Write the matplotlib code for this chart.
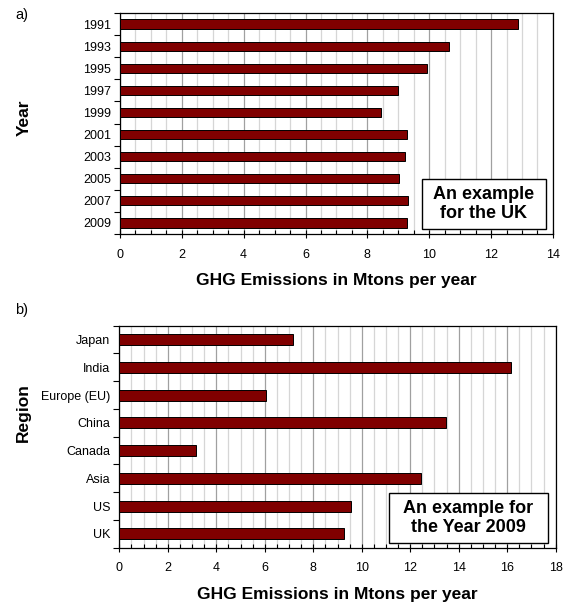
import numpy as np
import matplotlib
matplotlib.use("Agg")
import matplotlib.pyplot as plt
from matplotlib.patches import Rectangle
from matplotlib.ticker import MultipleLocator, FixedLocator

plt.rcParams['font.family'] = ['Liberation Sans', 'DejaVu Sans']

# panel a: UK emissions by year
years = ['1991', '1993', '1995', '1997', '1999', '2001', '2003', '2005', '2007', '2009']
uk_values = [12.86, 10.65, 9.94, 8.99, 8.44, 9.27, 9.23, 9.02, 9.31, 9.27]

# panel b: emissions by region, 2009
regions = ['Japan', 'India', 'Europe (EU)', 'China', 'Canada', 'Asia', 'US', 'UK']
region_values = [7.15, 16.17, 6.04, 13.48, 3.15, 12.46, 9.56, 9.28]

BAR = '#800000'
MAJ_GRID = '#a0a0a0'
MIN_GRID = '#d6d6d6'

fig = plt.figure(figsize=(5.63, 6.02), dpi=100)
ax_a = fig.add_axes([0.2131, 0.6113, 0.769, 0.367])
ax_b = fig.add_axes([0.2120, 0.0902, 0.775, 0.3688])


def style_panel(ax, labels, values, xmax, height, note, note_xy, box):
    n = len(labels)
    pos = np.arange(n)
    ax.barh(pos, values, height=height, color=BAR, edgecolor='black',
            linewidth=0.7, zorder=3)
    ax.set_xlim(0, xmax)
    ax.set_ylim(n - 0.5, -0.5)

    ax.xaxis.set_major_locator(MultipleLocator(2))
    ax.xaxis.set_minor_locator(MultipleLocator(0.5))
    ax.grid(which='major', axis='x', color=MAJ_GRID, linewidth=0.9, zorder=0)
    ax.grid(which='minor', axis='x', color=MIN_GRID, linewidth=0.9, zorder=0)
    ax.tick_params(axis='x', which='major', direction='inout', length=6,
                   width=0.8, labelsize=9, pad=7.5)
    ax.tick_params(axis='x', which='minor', direction='in', length=3,
                   width=0.8)

    # labels at category centres, ticks at category boundaries
    ax.set_yticks(pos)
    ax.set_yticklabels(labels)
    ax.yaxis.set_minor_locator(FixedLocator(np.arange(n + 1) - 0.5))
    ax.tick_params(axis='y', which='major', length=0, labelsize=9, pad=6.5)
    ax.tick_params(axis='y', which='minor', direction='out', length=4,
                   width=0.8)

    for s in ax.spines.values():
        s.set_linewidth(0.9)
        s.set_color('black')

    ax.set_xlabel('GHG Emissions in Mtons per year', fontsize=12.5,
                  fontweight='bold', labelpad=9)

    # framed note in the lower right corner
    ax.add_patch(Rectangle((box[0], box[1]), box[2] - box[0], box[3] - box[1],
                           transform=ax.transAxes, facecolor='white',
                           edgecolor='black', linewidth=1.0, zorder=5))
    ax.text(note_xy[0], note_xy[1], note, transform=ax.transAxes,
            ha='center', va='center', fontsize=13, fontweight='bold',
            linespacing=1.15, zorder=6)


style_panel(ax_a, years, uk_values, 14, 0.42, 'An example\nfor the UK',
            (0.84, 0.136), (0.697, 0.023, 0.984, 0.249))
style_panel(ax_b, regions, region_values, 18, 0.4,
            'An example for\nthe Year 2009', (0.80, 0.134),
            (0.618, 0.020, 0.982, 0.248))

fig.text(0.043, 1 - 118 / 602, 'Year', rotation=90, ha='center',
         va='center', fontsize=12.5, fontweight='bold')
fig.text(0.041, 1 - 413 / 602, 'Region', rotation=90, ha='center',
         va='center', fontsize=12.5, fontweight='bold')
fig.text(0.027, 1 - 15 / 602, 'a)', ha='left', va='center', fontsize=10.5)
fig.text(0.027, 1 - 310 / 602, 'b)', ha='left', va='center', fontsize=10.5)

fig.savefig('out.png', dpi=100)
